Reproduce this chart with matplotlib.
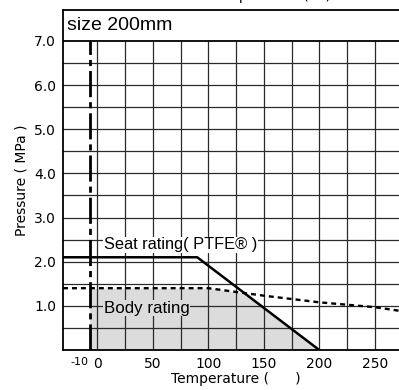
import matplotlib
matplotlib.use('Agg')
import matplotlib.pyplot as plt
import numpy as np

# data
seat_temp = [-31, 90, 200]
seat_pres = [2.1, 2.1, 0.0]
body_temp = [-31, 100, 150, 200, 250, 280]
body_pres = [1.4, 1.4, 1.23, 1.08, 0.97, 0.86]
min_temp = -7
xtick_vals = [0, 50, 100, 150, 200, 250]
ytick_vals = [1.0, 2.0, 3.0, 4.0, 5.0, 6.0, 7.0]

fig = plt.figure(figsize=(3.99, 3.90), dpi=100)
ax = fig.add_axes([63 / 399, 40 / 390, 345 / 399, 340 / 390])
ax.set_xlim(-31, 280)
ax.set_ylim(0, 7.7)

# grid only inside the 0..7 MPa band
for x in range(0, 280, 25):
    ax.plot([x, x], [0, 7.0], color='#2a2a2a', lw=0.9, zorder=2)
for y in np.arange(0.5, 7.0, 0.5):
    ax.axhline(y, color='#2a2a2a', lw=0.9, zorder=2)
ax.axhline(7.0, color='black', lw=1.3, zorder=3)

# shaded allowable region
xs = np.linspace(min_temp, 200, 400)
ys = np.minimum(np.interp(xs, seat_temp, seat_pres), np.interp(xs, body_temp, body_pres))
ax.fill_between(xs, 0, ys, color='#dcdcdc', lw=0, zorder=1)

ax.plot(seat_temp, seat_pres, color='black', lw=1.8, zorder=4, solid_capstyle='butt')
ax.plot(body_temp, body_pres, color='black', lw=1.7, dashes=(2.1, 1.7), zorder=4)
ax.plot([min_temp, min_temp], [0, 7.0], color='black', lw=2.0,
        dashes=(9.4, 1.8, 2.2, 1.8), zorder=4)

ax.text(6, 2.38, 'Seat rating( PTFE® )', fontsize=11.8, family='Liberation Sans',
        va='center', zorder=5, bbox=dict(facecolor='white', edgecolor='none', pad=0.5))
ax.text(6, 0.95, 'Body rating', fontsize=12.2, family='Liberation Sans',
        va='center', zorder=5, bbox=dict(facecolor='#dcdcdc', edgecolor='none', pad=0.5))
ax.text(-27, 7.35, 'size 200mm', fontsize=14, family='Liberation Sans', va='center')

ax.set_xticks([-16] + xtick_vals)
ax.set_xticklabels(['-10'] + [str(v) for v in xtick_vals], fontsize=10)
ax.get_xticklabels()[0].set_fontsize(8)
ax.set_yticks(ytick_vals)
ax.set_yticklabels(['%.1f' % v for v in ytick_vals], fontsize=10)
ax.tick_params(length=0, pad=5)
ax.set_xlabel('Temperature (      )', fontsize=10, labelpad=1)
ax.set_ylabel('Pressure ( MPa )', fontsize=10, labelpad=4)
for s in ax.spines.values():
    s.set_linewidth(1.3)

# title sits above the visible area, only its descenders show
fig.text(0.6, 0.993, 'Pressure-Temperature (°C)', fontsize=10, ha='center', va='bottom')

plt.savefig('out.png', dpi=100)
plt.close()
